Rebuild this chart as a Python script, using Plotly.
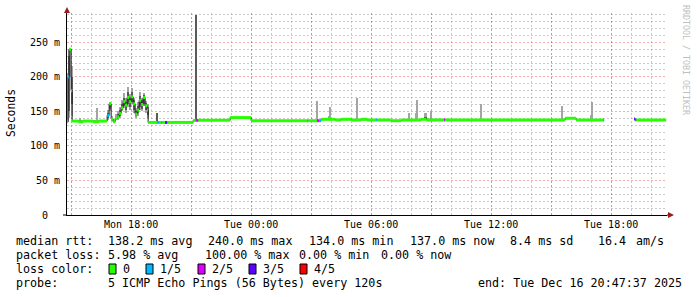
import plotly.graph_objects as go
from datetime import datetime

# ---------------- data ----------------
x_start = "2025-12-15 14:47:37"
x_end = "2025-12-16 20:47:37"
data_end = "2025-12-16 20:45"

# median rtt bins (start time, median in ms, lost pings of 5)
bin_start = [
    "2025-12-15 14:48", "2025-12-15 14:51", "2025-12-15 14:54", "2025-12-15 15:00",
    "2025-12-15 15:03", "2025-12-15 15:21", "2025-12-15 15:36", "2025-12-15 16:06",
    "2025-12-15 16:24", "2025-12-15 16:48", "2025-12-15 16:54", "2025-12-15 17:00",
    "2025-12-15 17:06", "2025-12-15 17:12", "2025-12-15 17:18", "2025-12-15 17:24",
    "2025-12-15 17:30", "2025-12-15 17:36", "2025-12-15 17:42", "2025-12-15 17:48",
    "2025-12-15 17:54", "2025-12-15 18:00", "2025-12-15 18:06", "2025-12-15 18:12",
    "2025-12-15 18:18", "2025-12-15 18:24", "2025-12-15 18:30", "2025-12-15 18:36",
    "2025-12-15 18:42", "2025-12-15 18:48", "2025-12-15 18:51", "2025-12-15 19:18",
    "2025-12-15 19:24", "2025-12-15 19:30", "2025-12-15 19:33", "2025-12-15 19:42",
    "2025-12-15 19:48", "2025-12-15 21:06", "2025-12-15 21:12", "2025-12-15 21:15",
    "2025-12-15 21:21", "2025-12-15 22:57", "2025-12-16 00:00", "2025-12-16 02:48",
    "2025-12-16 02:51", "2025-12-16 03:18", "2025-12-16 03:24", "2025-12-16 03:30",
    "2025-12-16 04:12", "2025-12-16 04:30", "2025-12-16 05:00", "2025-12-16 05:30",
    "2025-12-16 05:48", "2025-12-16 06:15", "2025-12-16 06:18", "2025-12-16 07:00",
    "2025-12-16 07:30", "2025-12-16 08:30", "2025-12-16 08:45", "2025-12-16 09:39",
    "2025-12-16 09:42", "2025-12-16 15:42", "2025-12-16 16:15", "2025-12-16 17:36",
    "2025-12-16 17:39", "2025-12-16 19:09", "2025-12-16 19:12", "2025-12-16 19:15",
]
bin_median = [
    135, 200, 240, 180,
    136, 135, 136, 135,
    136, 144, 161, 139,
    135, 140, 142, 147,
    155, 164, 159, 170,
    164, 171, 161, 146,
    152, 166, 160, 170,
    158, 152, 134, 134,
    134, 134, 134, 134,
    134, 137, 137, 137,
    137, 141, 136.5, 136.5,
    136.5, 136.5, 136.5, 138.5,
    137.5, 138.5, 137.5, 138.5,
    137.5, 137.5, 137.5, 136.5,
    137.5, 138.5, 137.5, 137.5,
    137.5, 140, 137.5, 137.5,
    None, 139, 138, 137.5,
]
bin_loss = [
    0, 1, 0, 0,
    0, 0, 0, 0,
    0, 1, 0, 0,
    0, 0, 0, 0,
    0, 0, 0, 0,
    0, 0, 0, 0,
    0, 0, 0, 0,
    0, 0, 0, 1,
    0, 1, 0, 3,
    0, 0, 1, 2,
    0, 0, 0, 1,
    0, 2, 1, 0,
    0, 0, 0, 0,
    0, 1, 0, 0,
    0, 0, 0, 2,
    0, 0, 0, 1,
    0, 3, 2, 0,
]

# smoke (spread of the individual pings), ms
smoke_start = [
    "2025-12-15 14:48", "2025-12-15 14:51", "2025-12-15 14:54", "2025-12-15 15:00",
    "2025-12-15 15:24", "2025-12-15 16:15",
    "2025-12-15 16:48", "2025-12-15 16:54", "2025-12-15 17:00", "2025-12-15 17:06",
    "2025-12-15 17:12", "2025-12-15 17:18", "2025-12-15 17:24", "2025-12-15 17:30",
    "2025-12-15 17:36", "2025-12-15 17:42", "2025-12-15 17:48", "2025-12-15 17:54",
    "2025-12-15 18:00", "2025-12-15 18:06", "2025-12-15 18:12", "2025-12-15 18:18",
    "2025-12-15 18:24", "2025-12-15 18:30", "2025-12-15 18:36", "2025-12-15 18:42",
    "2025-12-15 18:48", "2025-12-15 19:15", "2025-12-15 21:12",
    "2025-12-16 03:15", "2025-12-16 03:51", "2025-12-16 03:54", "2025-12-16 05:15",
    "2025-12-16 07:51", "2025-12-16 08:12", "2025-12-16 08:15", "2025-12-16 08:39",
    "2025-12-16 08:57", "2025-12-16 11:27", "2025-12-16 15:30", "2025-12-16 16:57",
    "2025-12-16 17:00",
]
smoke_end = [
    "2025-12-15 14:51", "2025-12-15 14:54", "2025-12-15 15:00", "2025-12-15 15:03",
    "2025-12-15 15:27", "2025-12-15 16:21",
    "2025-12-15 16:54", "2025-12-15 17:00", "2025-12-15 17:06", "2025-12-15 17:12",
    "2025-12-15 17:18", "2025-12-15 17:24", "2025-12-15 17:30", "2025-12-15 17:36",
    "2025-12-15 17:42", "2025-12-15 17:48", "2025-12-15 17:54", "2025-12-15 18:00",
    "2025-12-15 18:06", "2025-12-15 18:12", "2025-12-15 18:18", "2025-12-15 18:24",
    "2025-12-15 18:30", "2025-12-15 18:36", "2025-12-15 18:42", "2025-12-15 18:48",
    "2025-12-15 18:51", "2025-12-15 19:21", "2025-12-15 21:15",
    "2025-12-16 03:18", "2025-12-16 03:54", "2025-12-16 04:00", "2025-12-16 05:18",
    "2025-12-16 07:54", "2025-12-16 08:15", "2025-12-16 08:18", "2025-12-16 08:48",
    "2025-12-16 09:03", "2025-12-16 11:30", "2025-12-16 15:36", "2025-12-16 17:00",
    "2025-12-16 17:03",
]
smoke_min = [
    135, 140, 200, 143,
    136, 137,
    137, 150, 136, 134,
    137, 138, 141, 150,
    155, 148, 156, 152,
    160, 148, 140, 144,
    152, 150, 158, 148,
    140, 134, 137,
    137, 137, 137, 138,
    138, 138, 138, 138,
    138, 138, 138, 138,
    138,
]
smoke_max = [
    205, 241, 241, 215,
    141, 155,
    152, 164, 143, 138,
    146, 150, 156, 167,
    177, 170, 185, 175,
    184, 170, 155, 163,
    178, 170, 176, 165,
    160, 148, 289,
    165, 143, 156.5, 170,
    148, 148, 166, 148,
    151, 160, 158, 145,
    163,
]
smoke_core_min = [
    None, 150, None, 160,
    None, None,
    140, 153, None, None,
    None, 140, 144, 152,
    158, 152, 160, 157,
    163, 152, 143, 148,
    157, 154, 161, 152,
    145, 134, 137,
    None, None, None, None,
    None, None, None, 138,
    None, None, None, None,
    None,
]
smoke_core_max = [
    None, 230, None, 200,
    None, None,
    148, 162, None, None,
    None, 146, 152, 160,
    170, 164, 178, 170,
    178, 166, 150, 158,
    172, 166, 174, 162,
    156, 147, 289,
    None, None, None, None,
    None, None, None, 142,
    None, None, None, None,
    None,
]

loss_labels = ["0", "1/5", "2/5", "3/5", "4/5"]
loss_colors = ["#26ff00", "#00b8ff", "#dd00ff", "#5e00ff", "#ff0000"]

y_tick_values = [0, 50, 100, 150, 200, 250]
y_tick_labels = ["0\u00a0\u00a0", "50 m", "100 m", "150 m", "200 m", "250 m"]
x_tick_times = [
    "2025-12-15 15:00", "2025-12-15 18:00", "2025-12-15 21:00", "2025-12-16 00:00",
    "2025-12-16 03:00", "2025-12-16 06:00", "2025-12-16 09:00", "2025-12-16 12:00",
    "2025-12-16 15:00", "2025-12-16 18:00",
]
x_tick_labels = ["", "Mon 18:00", "", "Tue 00:00", "", "Tue 06:00", "", "Tue 12:00", "", "Tue 18:00"]

rtt_label = "median rtt:"
rtt_items = ["138.2 ms avg", "240.0 ms max", "134.0 ms min", "137.0 ms now", "8.4 ms sd", "16.4", "am/s"]
loss_label = "packet loss:"
loss_items = ["5.98 % avg", "100.00 % max", "0.00 % min", "0.00 % now"]
color_label = "loss color:"
probe_label = "probe:"
probe_text = "5 ICMP Echo Pings (56 Bytes) every 120s"
end_text = "end: Tue Dec 16 20:47:37 2025"
y_title = "Seconds"
watermark = "RRDTOOL / TOBI OETIKER"

# ---------------- build ----------------
FMT = "%Y-%m-%d %H:%M"


def T(s):
    return datetime.strptime(s, FMT)


starts = [T(s) for s in bin_start]
ends = starts[1:] + [T(data_end)]

fig = go.Figure()


def smoke_trace(lo_list, hi_list, color):
    xs, bases, hs, ws = [], [], [], []
    for s, e, lo, hi in zip(smoke_start, smoke_end, lo_list, hi_list):
        if lo is None:
            continue
        a, b = T(s), T(e)
        xs.append(a + (b - a) / 2)
        bases.append(lo)
        hs.append(hi - lo)
        ws.append((b - a).total_seconds() * 1000)
    return go.Bar(x=xs, y=hs, base=bases, width=ws,
                  marker=dict(color=color, line=dict(width=0)),
                  hoverinfo="skip", showlegend=False)


fig.add_trace(smoke_trace(smoke_min, smoke_max, "#a4a4a4"))
fig.add_trace(smoke_trace(smoke_core_min, smoke_core_max, "#5a5a5a"))

# thin dark median line
mx, my = [], []
for a, b, m in zip(starts, ends, bin_median):
    mx += [a, b]
    my += [m, m]
fig.add_trace(go.Scatter(x=mx, y=my, mode="lines", line=dict(color="#202020", width=1),
                         hoverinfo="skip", showlegend=False))

# loss coloured median segments
for c, col in enumerate(loss_colors):
    sx, sy = [], []
    for a, b, m, l in zip(starts, ends, bin_median, bin_loss):
        if m is None or l != c:
            continue
        sx += [a, b, None]
        sy += [m, m, None]
    if sx:
        fig.add_trace(go.Scatter(x=sx, y=sy, mode="lines", line=dict(color=col, width=3),
                                 hoverinfo="skip", showlegend=False))

# ---------------- layout ----------------
L, R, TOP, BOT = 67, 667, 13, 215
W, H = 697, 297


def PX(x):
    return (x - L) / (R - L)


def PY(y):
    return (BOT - y) / (BOT - TOP)


MONO = "DejaVu Sans Mono"
MINOR_GRID = "rgba(150,150,150,0.5)"
MAJOR_GRID = "rgba(235,90,90,0.5)"

x_minor = []
for d, hrs in (("2025-12-15", range(15, 24)), ("2025-12-16", range(0, 21))):
    for h in hrs:
        x_minor.append(f"{d} {h:02d}:00")

fig.update_layout(
    width=W, height=H,
    margin=dict(l=L, r=W - R, t=TOP, b=H - BOT),
    paper_bgcolor="white", plot_bgcolor="white",
    barmode="overlay", bargap=0,
    showlegend=False,
    font=dict(family=MONO, color="#000000"),
    xaxis=dict(
        type="date", range=[x_start, x_end],
        tickmode="array", tickvals=x_tick_times, ticktext=x_tick_labels,
        showgrid=True, gridcolor=MAJOR_GRID, griddash="2px,2px", gridwidth=1,
        minor=dict(tickmode="array", tickvals=x_minor, showgrid=True,
                   gridcolor=MINOR_GRID, griddash="2px,2px", gridwidth=1),
        showline=True, linecolor="#000000", linewidth=1,
        ticks="", tickfont=dict(family=MONO, size=10, color="#000000"),
        zeroline=False, fixedrange=True,
    ),
    yaxis=dict(
        range=[0, 292.4],
        tickmode="array", tickvals=y_tick_values, ticktext=y_tick_labels,
        showgrid=True, gridcolor=MAJOR_GRID, griddash="2px,2px", gridwidth=1,
        minor=dict(tickmode="array",
                   tickvals=[v for v in range(10, 300, 10) if v % 50],
                   showgrid=True, gridcolor=MINOR_GRID, griddash="2px,2px", gridwidth=1),
        showline=True, linecolor="#000000", linewidth=1,
        ticks="", ticklabelstandoff=4,
        tickfont=dict(family=MONO, size=10, color="#000000"),
        zeroline=False, fixedrange=True,
    ),
)

shapes = []
# axis extensions
shapes.append(dict(type="line", xref="paper", yref="paper", x0=PX(63), x1=PX(L), y0=0, y1=0,
                   line=dict(color="#000", width=1)))
shapes.append(dict(type="line", xref="paper", yref="paper", x0=0, x1=0, y0=1, y1=PY(10),
                   line=dict(color="#000", width=1)))
shapes.append(dict(type="line", xref="paper", yref="paper", x0=1, x1=PX(669), y0=0, y1=0,
                   line=dict(color="#000", width=1)))
# arrows
ARROW = "#9b1c1c"
shapes.append(dict(type="path", xref="paper", yref="paper",
                   path=f"M {PX(64)} {PY(13)} L {PX(70)} {PY(13)} L {PX(67)} {PY(7)} Z",
                   fillcolor=ARROW, line=dict(width=0)))
shapes.append(dict(type="path", xref="paper", yref="paper",
                   path=f"M {PX(668)} {PY(212)} L {PX(668)} {PY(218)} L {PX(674)} {PY(215)} Z",
                   fillcolor=ARROW, line=dict(width=0)))

ann = []
LF = 11.7


def text(t, x, y, size=LF, color="#000000", angle=0, xa="left"):
    ann.append(dict(text=t, x=PX(x), y=PY(y), xref="paper", yref="paper",
                    xanchor=xa, yanchor="middle", showarrow=False, textangle=angle,
                    font=dict(family=MONO, size=size, color=color), borderpad=0, borderwidth=0))


# y title and watermark
text(y_title, 11, 113, size=11.4, angle=-90, xa="center")
text(watermark, 686, 60, size=8.3, color="#c0c0c0", angle=90, xa="center")

# legend rows
row_y = [241, 255, 269, 283]
text(rtt_label, 16, row_y[0])
for t, x in zip(rtt_items, [108, 208, 309, 410, 510, 598, 636]):
    text(t, x, row_y[0])
text(loss_label, 16, row_y[1])
for t, x in zip(loss_items, [108, 205, 299, 381]):
    text(t, x, row_y[1])
text(color_label, 16, row_y[2])
sw_x = [109, 146, 198, 249, 300]
for lab, col, x in zip(loss_labels, loss_colors, sw_x):
    shapes.append(dict(type="rect", xref="paper", yref="paper",
                       x0=PX(x), x1=PX(x + 7), y0=PY(264), y1=PY(274),
                       fillcolor=col, line=dict(color="#000", width=1)))
    text(lab, x + 14, row_y[2])
text(probe_label, 16, row_y[3])
text(probe_text, 108, row_y[3])
text(end_text, 478, row_y[3])

fig.update_layout(shapes=shapes, annotations=ann)

fig.write_html("out.html")
